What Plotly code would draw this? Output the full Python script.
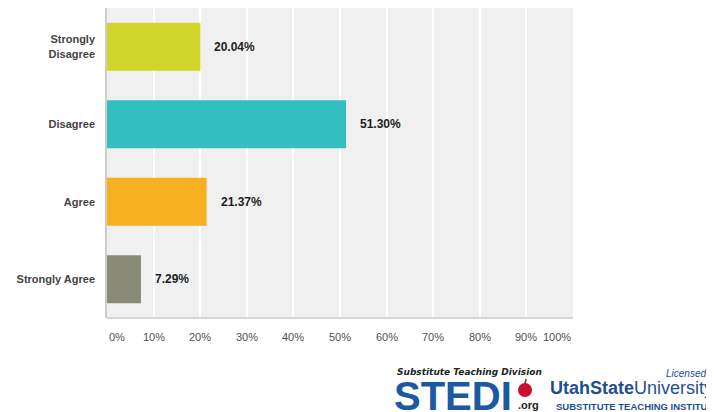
import plotly.graph_objects as go

categories = ["Strongly Disagree", "Disagree", "Agree", "Strongly Agree"]
category_labels = ["Strongly<br>Disagree", "Disagree", "Agree", "Strongly Agree"]
values = [20.04, 51.30, 21.37, 7.29]
value_labels = ["20.04%", "51.30%", "21.37%", "7.29%"]
colors = ["#d1d52a", "#33bec0", "#f6b01f", "#8a8a78"]
tick_values = [0, 10, 20, 30, 40, 50, 60, 70, 80, 90, 100]
tick_labels = ["0%", "10%", "20%", "30%", "40%", "50%", "60%", "70%", "80%", "90%", "100%"]

# page body has an 8px default margin; the figure is drawn 8px in from the top-left
OFF = 8
W_PX, H_PX = 714 - OFF, 412 - OFF
# plot area in window pixels
L, R, T, B = 107, 573, 8, 318
PW, PH = R - L, B - T

def px(x):
    return (x - L) / PW

def py(y):
    return (B - y) / PH

FONT = "Liberation Sans, Arial, sans-serif"

fig = go.Figure()
fig.add_trace(go.Bar(
    x=values, y=categories, orientation="h",
    marker=dict(color=colors, line=dict(width=0)),
    hoverinfo="skip",
))

annotations = []
for c, v, lab in zip(categories, values, value_labels):
    annotations.append(dict(
        x=v, y=c, xref="x", yref="y", text="<b>%s</b>" % lab, showarrow=False,
        xanchor="left", yanchor="middle", xshift=12,
        font=dict(family=FONT, size=12, color="#1e1e1e"),
    ))

for tv, tl in zip(tick_values, tick_labels):
    anchor = "center"
    if tv == tick_values[0]:
        anchor = "left"
    elif tv == tick_values[-1]:
        anchor = "right"
    annotations.append(dict(
        x=tv, y=py(337), xref="x", yref="paper", text=tl, showarrow=False,
        xanchor=anchor, yanchor="middle",
        font=dict(family=FONT, size=11, color="#505050"),
    ))

# Logo texts
annotations += [
    dict(x=px(395), y=py(372), xref="paper", yref="paper",
         text="<b><i>Substitute Teaching Division</i></b>", showarrow=False,
         xanchor="left", yanchor="middle",
         font=dict(family="DejaVu Sans, sans-serif", size=9, color="#222222")),
    dict(x=px(392), y=py(396), xref="paper", yref="paper",
         text="<b>STEDI</b>", showarrow=False, xanchor="left", yanchor="middle",
         font=dict(family=FONT, size=40, color="#1d58a3")),
    dict(x=px(516), y=py(405), xref="paper", yref="paper",
         text="<b>.org</b>", showarrow=False, xanchor="left", yanchor="middle",
         font=dict(family=FONT, size=11, color="#222222")),
    dict(x=px(548), y=py(388), xref="paper", yref="paper",
         text="<b>UtahState</b>University", showarrow=False, xanchor="left", yanchor="middle",
         font=dict(family=FONT, size=18, color="#1d4f91")),
    dict(x=px(664), y=py(373), xref="paper", yref="paper",
         text="<i>Licensed by</i>", showarrow=False, xanchor="left", yanchor="middle",
         font=dict(family=FONT, size=10, color="#1d4f91")),
    dict(x=px(554), y=py(406), xref="paper", yref="paper",
         text="<b>SUBSTITUTE TEACHING INSTITUTE</b>", showarrow=False, xanchor="left",
         yanchor="middle", font=dict(family=FONT, size=9.5, color="#1d4f91")),
]

shapes = [
    dict(type="line", xref="paper", yref="paper", x0=0, x1=1, y0=0, y1=0,
         line=dict(color="#d6d6d6", width=2)),
    dict(type="circle", xref="paper", yref="paper",
         x0=px(518), x1=px(532), y0=py(397), y1=py(383),
         fillcolor="#c8102e", line=dict(width=0)),
    dict(type="line", xref="paper", yref="paper",
         x0=px(525), x1=px(526), y0=py(384), y1=py(379),
         line=dict(color="#6b3a1e", width=1.5)),
]

fig.update_layout(
    width=W_PX, height=H_PX,
    margin=dict(l=L - OFF, r=714 - R, t=T - OFF, b=412 - B, pad=0),
    paper_bgcolor="white", plot_bgcolor="#f0f0f0",
    showlegend=False, bargap=0.38,
    font=dict(family=FONT),
    xaxis=dict(range=[0, 100], tickvals=tick_values, showticklabels=False,
               showgrid=True, gridcolor="#ffffff", gridwidth=1.5,
               zeroline=False, showline=False, fixedrange=True),
    yaxis=dict(categoryorder="array", categoryarray=categories,
               autorange="reversed", tickvals=categories,
               ticktext=["<b>%s</b>" % t for t in category_labels],
               tickfont=dict(family=FONT, size=11, color="#444444"),
               showline=True, linecolor="#cccccc", linewidth=1.5,
               showgrid=False, zeroline=False, ticks="", ticklabelstandoff=8,
               fixedrange=True),
    annotations=annotations, shapes=shapes,
)

fig.write_html("out.html")
